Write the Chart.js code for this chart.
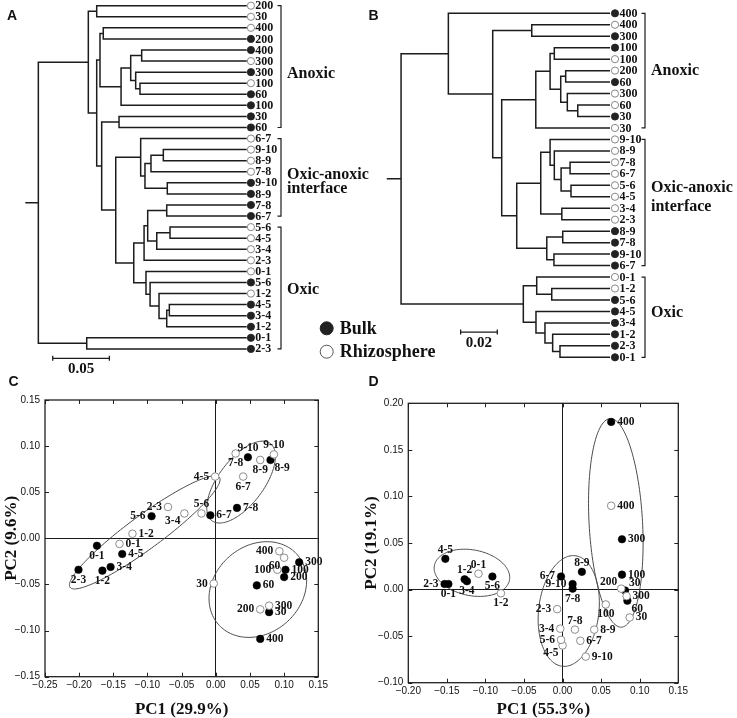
<!DOCTYPE html>
<html>
<head>
<meta charset="utf-8">
<script src="https://cdn.jsdelivr.net/npm/chart.js@4.4.1/dist/chart.umd.min.js"></script>
<style>
  html, body { margin: 0; padding: 0; background: #fff; }
  #wrap { position: relative; width: 737px; height: 718px; }
  #wrap canvas { position: absolute; left: 0; top: 0; }
</style>
</head>
<body>
<div id="wrap">
  <canvas id="chartA" width="737" height="718"></canvas>
  <canvas id="chartB" width="737" height="718"></canvas>
  <canvas id="chartC" width="737" height="718"></canvas>
  <canvas id="chartD" width="737" height="718"></canvas>
</div>
<script>
// =================================
// DENDROGRAM A
// =================================
const leafLabelsA = ['200', '30', '400', '200', '400', '300', '300', '100', '60', '100', '30', '60',
  '6-7', '9-10', '8-9', '7-8', '9-10', '8-9', '7-8', '6-7',
  '5-6', '4-5', '3-4', '2-3', '0-1', '5-6', '1-2', '4-5', '3-4', '1-2', '0-1', '2-3'];
const leafTypesA = ['R', 'R', 'R', 'B', 'B', 'R', 'B', 'R', 'B', 'B', 'B', 'B',
  'R', 'R', 'R', 'R', 'B', 'B', 'B', 'B',
  'R', 'R', 'R', 'R', 'R', 'B', 'R', 'B', 'B', 'B', 'B', 'B'];
// linkage rows: [child a, child b, merge distance]; ids >= 32 are earlier rows
const linkageA = [
  [0, 1, 0.1324], [2, 3, 0.1266], [4, 5, 0.0927], [7, 8, 0.0942],
  [6, 35, 0.0980], [34, 36, 0.1024], [37, 9, 0.1109], [33, 38, 0.1295],
  [10, 11, 0.1127], [13, 14, 0.0736], [41, 15, 0.0845], [16, 17, 0.0701],
  [42, 43, 0.0898], [12, 44, 0.0936], [18, 19, 0.0706], [20, 21, 0.0677],
  [47, 22, 0.0794], [46, 48, 0.0874], [49, 23, 0.0906], [27, 28, 0.0683],
  [51, 29, 0.0706], [26, 52, 0.0774], [25, 53, 0.0853], [24, 54, 0.0889],
  [50, 55, 0.0997], [45, 56, 0.1156], [40, 57, 0.1280], [39, 58, 0.1324],
  [32, 59, 0.1398], [30, 31, 0.1412], [60, 61, 0.1839]
];
const clusterNamesA = [['Anoxic'], ['Oxic-anoxic', 'interface'], ['Oxic']];
const clusterFromA = [0, 12, 20];
const clusterToA = [11, 19, 31];

// =================================
// DENDROGRAM B
// =================================
const leafLabelsB = ['400', '400', '300', '100', '100', '200', '60', '300', '60', '30', '30',
  '9-10', '8-9', '7-8', '6-7', '5-6', '4-5', '3-4', '2-3', '8-9', '7-8', '9-10', '6-7',
  '0-1', '1-2', '5-6', '4-5', '3-4', '1-2', '2-3', '0-1'];
const leafTypesB = ['B', 'R', 'B', 'B', 'R', 'R', 'B', 'R', 'R', 'B', 'R',
  'R', 'R', 'R', 'R', 'R', 'R', 'R', 'R', 'B', 'B', 'B', 'B',
  'R', 'R', 'B', 'B', 'B', 'B', 'B', 'B'];
const linkageB = [
  [1, 2, 0.0427], [3, 4, 0.0304], [5, 6, 0.0242], [8, 9, 0.0176],
  [7, 34, 0.0233], [33, 35, 0.0269], [32, 36, 0.0327], [37, 10, 0.0405],
  [13, 14, 0.0218], [15, 16, 0.0213], [39, 40, 0.0267], [12, 41, 0.0304],
  [11, 42, 0.0327], [17, 18, 0.0263], [43, 44, 0.0378], [19, 20, 0.0258],
  [21, 22, 0.0306], [46, 47, 0.0345], [45, 48, 0.0509], [38, 49, 0.0591],
  [31, 50, 0.0640], [0, 51, 0.0882], [24, 25, 0.0318], [23, 53, 0.0400],
  [29, 30, 0.0273], [28, 55, 0.0313], [27, 56, 0.0355], [26, 57, 0.0404],
  [54, 58, 0.0473], [52, 59, 0.1140]
];
const clusterNamesB = [['Anoxic'], ['Oxic-anoxic', 'interface'], ['Oxic']];
const clusterFromB = [0, 11, 23];
const clusterToB = [10, 22, 30];

// =================================
// PCA (C e D)
// =================================
const depths = ['0-1', '1-2', '2-3', '3-4', '4-5', '5-6', '6-7', '7-8', '8-9', '9-10',
  '30', '60', '100', '200', '300', '400'];

const bulkXC = [-0.174, -0.166, -0.201, -0.154, -0.137, -0.094, -0.008, 0.031, 0.080, 0.047, 0.078, 0.060, 0.102, 0.100, 0.122, 0.065];
const bulkYC = [-0.008, -0.035, -0.034, -0.031, -0.017, 0.024, 0.025, 0.033, 0.085, 0.088, -0.080, -0.051, -0.034, -0.042, -0.026, -0.109];
const rhizoXC = [-0.141, -0.122, -0.070, -0.046, -0.001, -0.021, 0.040, 0.029, 0.065, 0.085, -0.003, 0.100, 0.090, 0.065, 0.078, 0.093];
const rhizoYC = [-0.006, 0.005, 0.034, 0.027, 0.067, 0.027, 0.067, 0.092, 0.085, 0.091, -0.049, -0.021, -0.034, -0.077, -0.073, -0.014];

const bulkXD = [-0.148, -0.127, -0.153, -0.124, -0.152, -0.091, -0.002, 0.013, 0.025, 0.013, 0.081, 0.084, 0.077, null, 0.077, 0.063];
const bulkYD = [0.006, 0.011, 0.006, 0.009, 0.033, 0.014, 0.014, 0.001, 0.019, 0.006, -0.001, -0.012, 0.016, null, 0.054, 0.180];
const rhizoXD = [-0.109, -0.080, -0.007, -0.003, 0.000, -0.002, 0.023, 0.016, 0.041, 0.030, 0.087, null, 0.056, 0.076, 0.083, 0.063];
const rhizoYD = [0.017, -0.004, -0.021, -0.042, -0.060, -0.054, -0.055, -0.043, -0.043, -0.072, -0.030, null, -0.016, 0.001, -0.007, 0.090];

const xTicksC = [-0.25, -0.20, -0.15, -0.10, -0.05, 0.00, 0.05, 0.10, 0.15];
const yTicksC = [-0.15, -0.10, -0.05, 0.00, 0.05, 0.10, 0.15];
const xTicksD = [-0.20, -0.15, -0.10, -0.05, 0.00, 0.05, 0.10, 0.15];
const yTicksD = [-0.10, -0.05, 0.00, 0.05, 0.10, 0.15, 0.20];

// ellipses: [cx, cy, ax, ay, bx, by] (center and two conjugate semi-axes, data units)
const ellipsesC = [
  [-0.104, 0.0065, 0.1093, 0.0596, 0.0145, -0.0146],
  [0.037, 0.061, 0.0425, 0.042, 0.0268, -0.0144],
  [0.0615, -0.0555, 0.0712, 0.0054, -0.0059, -0.0516]
];
const ellipsesD = [
  [-0.1175, 0.018, 0.0488, -0.0072, -0.0043, -0.0243],
  [0.008, -0.023, 0.0078, 0.0594, 0.0389, -0.0029],
  [0.069, 0.0716, -0.0073, 0.112, 0.0346, 0.0014]
];

// label placement around each point (style only)
const labelPosBulkC = ['b', 'b', 'b', 'r', 'r', 'l', 'r', 'r', 'br', 't', 'r', 'r', 'r', 'r', 'r', 'r'];
const labelPosRhizoC = ['r', 'r', 'l', 'bl', 'l', 't', 'b', 'b', 'b', 't', 'l', 'bl', 'l', 'l', 'r', 'l'];
const labelPosBulkD = ['b', 't', 'l', 'b', 't', 'b', 'l', 'b', 't', 'l', 'tr', 'br', 'r', null, 'r', 'r'];
const labelPosRhizoD = ['t', 'b', 'l', 'l', 'bl', 'l', 'r', 't', 'r', 'r', 'r', null, 'b', 'tl', 'r', 'r'];

// =================================
// ESTILO
// =================================
const INK = '#111111';
const LINE = '#1c1c1c';
const FILL = '#222222';
const OPEN = '#7a7a7a';
const SERIF = '"Liberation Serif", "Times New Roman", serif';
const SANS = '"Liberation Sans", Arial, sans-serif';
Chart.defaults.font.family = SANS;

const LABEL_OFFSETS = {
  r: [6, 0, 'left'], l: [-6, 0, 'right'], t: [0, -9, 'center'], b: [0, 10, 'center'],
  tr: [4, -7, 'left'], tl: [-4, -7, 'right'], br: [4, 8, 'left'], bl: [-4, 8, 'right']
};

function drawLetter(ctx, text, x, y) {
  ctx.font = 'bold 14px ' + SANS;
  ctx.fillStyle = INK;
  ctx.textAlign = 'center';
  ctx.textBaseline = 'middle';
  ctx.fillText(text, x, y);
}

// =================================
// DENDROGRAMAS
// =================================
function buildTree(n, linkage, stub) {
  const nodes = [];
  for (let i = 0; i < n; i++) nodes.push({ h: 0, y: i });
  const pts = [];
  linkage.forEach(([a, b, h]) => {
    const A = nodes[a], B = nodes[b];
    pts.push({ x: A.h, y: A.y }, { x: h, y: A.y }, { x: h, y: B.y }, { x: B.h, y: B.y }, { x: h, y: null });
    nodes.push({ h: h, y: (A.y + B.y) / 2 });
  });
  const root = nodes[nodes.length - 1];
  pts.push({ x: root.h, y: root.y }, { x: root.h + stub, y: root.y });
  return pts;
}

function dendroChart(id, cfg) {
  const n = cfg.labels.length;
  const decor = {
    id: 'decor' + cfg.letter,
    afterDatasetsDraw(chart) {
      const ctx = chart.ctx, xs = chart.scales.x, ys = chart.scales.y;
      ctx.save();
      // leaf labels
      ctx.font = 'bold 12px ' + SERIF;
      ctx.fillStyle = INK;
      ctx.textAlign = 'left';
      ctx.textBaseline = 'middle';
      chart.getDatasetMeta(1).data.forEach((pt, i) => ctx.fillText(cfg.labels[i], pt.x + 4.4, pt.y + 0.5));
      // brackets
      ctx.strokeStyle = LINE;
      ctx.lineWidth = 1.2;
      cfg.from.forEach((f, k) => {
        const y1 = ys.getPixelForValue(f), y2 = ys.getPixelForValue(cfg.to[k]);
        ctx.beginPath();
        ctx.moveTo(cfg.bracketX - 3.5, y1);
        ctx.lineTo(cfg.bracketX, y1);
        ctx.lineTo(cfg.bracketX, y2);
        ctx.lineTo(cfg.bracketX - 3.5, y2);
        ctx.stroke();
      });
      // cluster names
      ctx.font = 'bold 16px ' + SERIF;
      cfg.names.forEach((lines, k) => lines.forEach((s, j) => {
        ctx.fillText(s, cfg.nameX, ys.getPixelForValue(cfg.nameRows[k][j]));
      }));
      // scale bar
      const sb = cfg.scaleBar;
      const x1 = xs.getPixelForValue(sb.from), x2 = xs.getPixelForValue(sb.from - sb.len);
      const yb = ys.getPixelForValue(sb.row);
      ctx.lineWidth = 1.3;
      ctx.beginPath();
      ctx.moveTo(x1, yb - 2.5); ctx.lineTo(x1, yb + 2.5);
      ctx.moveTo(x1, yb); ctx.lineTo(x2, yb);
      ctx.moveTo(x2, yb - 2.5); ctx.lineTo(x2, yb + 2.5);
      ctx.stroke();
      ctx.font = 'bold 15px ' + SERIF;
      ctx.textAlign = 'center';
      ctx.fillText(sb.text, (x1 + x2) / 2, yb + 11);
      // legend
      if (cfg.legend) {
        const lg = cfg.legend;
        ctx.lineWidth = 1;
        lg.items.forEach((it, k) => {
          const cy = lg.y + k * lg.step;
          ctx.beginPath();
          ctx.arc(lg.x, cy, 6.5, 0, Math.PI * 2);
          ctx.fillStyle = it.type === 'B' ? FILL : '#fff';
          ctx.fill();
          ctx.strokeStyle = it.type === 'B' ? FILL : '#555';
          ctx.stroke();
          ctx.fillStyle = INK;
          ctx.font = 'bold 18px ' + SERIF;
          ctx.textAlign = 'left';
          ctx.fillText(it.text, lg.x + 13, cy + 1);
        });
      }
      drawLetter(ctx, cfg.letter, cfg.letterPos[0], cfg.letterPos[1]);
      ctx.restore();
    }
  };

  return new Chart(document.getElementById(id), {
    type: 'scatter',
    data: {
      datasets: [
        {
          data: buildTree(n, cfg.linkage, cfg.stub),
          showLine: true,
          spanGaps: false,
          borderColor: LINE,
          borderWidth: 1.5,
          pointRadius: 0,
          clip: false
        },
        {
          data: cfg.labels.map((_, i) => ({ x: -cfg.gap, y: i })),
          pointRadius: 3.6,
          pointBackgroundColor: cfg.types.map(t => (t === 'B' ? FILL : '#fff')),
          pointBorderColor: cfg.types.map(t => (t === 'B' ? FILL : OPEN)),
          pointBorderWidth: 0.9,
          clip: false
        }
      ]
    },
    options: {
      responsive: false,
      animation: false,
      events: [],
      layout: { padding: cfg.padding },
      plugins: { legend: { display: false }, tooltip: { enabled: false } },
      scales: {
        x: { type: 'linear', display: false, reverse: true, min: cfg.xMin, max: cfg.xMax },
        y: { type: 'linear', display: false, reverse: true, min: 0, max: n - 1 }
      }
    },
    plugins: [decor]
  });
}

// =================================
// PCA
// =================================
function fmtTick(v) {
  return (Math.round(v * 100) / 100).toFixed(2).replace('-', '\u2212');
}

function pcaChart(id, cfg) {
  const points = (xs, ys, pos) => depths
    .map((d, i) => (xs[i] === null ? null : { x: xs[i], y: ys[i], label: d, pos: pos[i] }))
    .filter(Boolean);

  const decor = {
    id: 'pca' + cfg.letter,
    beforeDatasetsDraw(chart) {
      const ctx = chart.ctx, xs = chart.scales.x, ys = chart.scales.y;
      ctx.save();
      ctx.strokeStyle = '#4a4a4a';
      ctx.lineWidth = 1;
      cfg.ellipses.forEach(e => {
        ctx.beginPath();
        for (let k = 0; k <= 160; k++) {
          const t = (k / 160) * Math.PI * 2;
          const vx = e[0] + Math.cos(t) * e[2] + Math.sin(t) * e[4];
          const vy = e[1] + Math.cos(t) * e[3] + Math.sin(t) * e[5];
          const px = xs.getPixelForValue(vx), py = ys.getPixelForValue(vy);
          if (k === 0) ctx.moveTo(px, py); else ctx.lineTo(px, py);
        }
        ctx.closePath();
        ctx.stroke();
      });
      ctx.restore();
    },
    afterDatasetsDraw(chart) {
      const ctx = chart.ctx;
      ctx.save();
      ctx.font = 'bold 11.5px ' + SERIF;
      ctx.fillStyle = INK;
      ctx.textBaseline = 'middle';
      chart.data.datasets.forEach((ds, di) => {
        chart.getDatasetMeta(di).data.forEach((pt, i) => {
          const p = ds.data[i];
          const off = LABEL_OFFSETS[p.pos];
          if (!off) return;
          ctx.textAlign = off[2];
          ctx.fillText(p.label, pt.x + off[0], pt.y + off[1]);
        });
      });
      ctx.restore();
    },
    afterDraw(chart) {
      const ctx = chart.ctx, a = chart.chartArea, xs = chart.scales.x, ys = chart.scales.y;
      ctx.save();
      ctx.strokeStyle = '#202020';
      ctx.lineWidth = 1;
      ctx.beginPath();
      xs.ticks.forEach((t, i) => {
        const p = Math.round(xs.getPixelForTick(i)) + 0.5;
        ctx.moveTo(p, a.bottom); ctx.lineTo(p, a.bottom - 4);
        ctx.moveTo(p, a.top); ctx.lineTo(p, a.top + 4);
      });
      ys.ticks.forEach((t, i) => {
        const p = Math.round(ys.getPixelForTick(i)) + 0.5;
        ctx.moveTo(a.left, p); ctx.lineTo(a.left + 4, p);
        ctx.moveTo(a.right, p); ctx.lineTo(a.right - 4, p);
      });
      ctx.stroke();
      ctx.lineWidth = 1.3;
      ctx.strokeRect(a.left, a.top, a.right - a.left, a.bottom - a.top);
      drawLetter(ctx, cfg.letter, cfg.letterPos[0], cfg.letterPos[1]);
      ctx.restore();
    }
  };

  const grid = {
    drawTicks: false,
    lineWidth: 1,
    color: c => (c.tick && Math.abs(c.tick.value) < 1e-9 ? '#1a1a1a' : 'rgba(0,0,0,0)')
  };
  const tickFont = { family: SANS, size: 10 };
  const titleFont = { family: SERIF, size: 17, weight: 'bold', lineHeight: 1 };

  return new Chart(document.getElementById(id), {
    type: 'scatter',
    data: {
      datasets: [
        {
          data: points(cfg.rhizoX, cfg.rhizoY, cfg.rhizoPos),
          pointRadius: 3.8,
          pointBackgroundColor: '#fff',
          pointBorderColor: '#8c8c8c',
          pointBorderWidth: 1
        },
        {
          data: points(cfg.bulkX, cfg.bulkY, cfg.bulkPos),
          pointRadius: 3.8,
          pointBackgroundColor: '#000',
          pointBorderColor: '#000',
          pointBorderWidth: 0.5
        }
      ]
    },
    options: {
      responsive: false,
      animation: false,
      events: [],
      layout: { padding: cfg.padding },
      plugins: { legend: { display: false }, tooltip: { enabled: false } },
      scales: {
        x: {
          type: 'linear',
          min: cfg.xTicks[0],
          max: cfg.xTicks[cfg.xTicks.length - 1],
          afterBuildTicks: s => { s.ticks = cfg.xTicks.map(v => ({ value: v })); },
          afterFit: s => { s.height = cfg.xAxisH; },
          ticks: { autoSkip: false, maxRotation: 0, padding: 3, font: tickFont, color: '#111', callback: fmtTick },
          grid: grid,
          border: { display: false },
          title: { display: true, text: cfg.xTitle, font: titleFont, color: INK, padding: { top: 0, bottom: 0 } }
        },
        y: {
          type: 'linear',
          min: cfg.yTicks[0],
          max: cfg.yTicks[cfg.yTicks.length - 1],
          afterBuildTicks: s => { s.ticks = cfg.yTicks.map(v => ({ value: v })); },
          afterFit: s => { s.width = cfg.yAxisW; },
          ticks: { autoSkip: false, padding: 5, font: tickFont, color: '#111', callback: fmtTick },
          grid: grid,
          border: { display: false },
          title: { display: true, text: cfg.yTitle, font: titleFont, color: INK, padding: { top: 0, bottom: 0 } }
        }
      }
    },
    plugins: [decor]
  });
}

// =================================
// INICIALIZAÇÃO
// =================================
dendroChart('chartA', {
  letter: 'A', letterPos: [12, 16],
  labels: leafLabelsA, types: leafTypesA, linkage: linkageA,
  stub: 0.0115, gap: 0.0037, xMin: -0.008, xMax: 0.2,
  padding: { left: 20.1, right: 481.2, top: 5.7, bottom: 369.1 },
  from: clusterFromA, to: clusterToA, names: clusterNamesA,
  bracketX: 281, nameX: 287, nameRows: [[6.17], [15.3, 16.5], [25.7]],
  scaleBar: { from: 0.1712, len: 0.05, row: 31.85, text: '0.05' },
  legend: { x: 326.7, y: 328.3, step: 23.4, items: [{ type: 'B', text: 'Bulk' }, { type: 'R', text: 'Rhizosphere' }] }
});

dendroChart('chartB', {
  letter: 'B', letterPos: [373.5, 16],
  labels: leafLabelsB, types: leafTypesB, linkage: linkageB,
  stub: 0.0078, gap: 0.0027, xMin: -0.005, xMax: 0.125,
  padding: { left: 380.9, right: 117.8, top: 13.3, bottom: 360.7 },
  from: clusterFromB, to: clusterToB, names: clusterNamesB,
  bracketX: 645, nameX: 651, nameRows: [[5.0], [15.26, 16.86], [26.15]],
  scaleBar: { from: 0.0815, len: 0.02, row: 27.8, text: '0.02' }
});

pcaChart('chartC', {
  letter: 'C', letterPos: [13.5, 382],
  bulkX: bulkXC, bulkY: bulkYC, rhizoX: rhizoXC, rhizoY: rhizoYC,
  bulkPos: labelPosBulkC, rhizoPos: labelPosRhizoC,
  ellipses: ellipsesC, xTicks: xTicksC, yTicks: yTicksC,
  xTitle: 'PC1 (29.9%)', yTitle: 'PC2 (9.6%)',
  padding: { left: 3.2, right: 418.7, top: 400, bottom: 0 },
  yAxisW: 41.8, xAxisH: 41.3
});

pcaChart('chartD', {
  letter: 'D', letterPos: [373.5, 382],
  bulkX: bulkXD, bulkY: bulkYD, rhizoX: rhizoXD, rhizoY: rhizoYD,
  bulkPos: labelPosBulkD, rhizoPos: labelPosRhizoD,
  ellipses: ellipsesD, xTicks: xTicksD, yTicks: yTicksD,
  xTitle: 'PC1 (55.3%)', yTitle: 'PC2 (19.1%)',
  padding: { left: 363, right: 58.7, top: 403.3, bottom: 0 },
  yAxisW: 45.3, xAxisH: 35.3
});
</script>
</body>
</html>
